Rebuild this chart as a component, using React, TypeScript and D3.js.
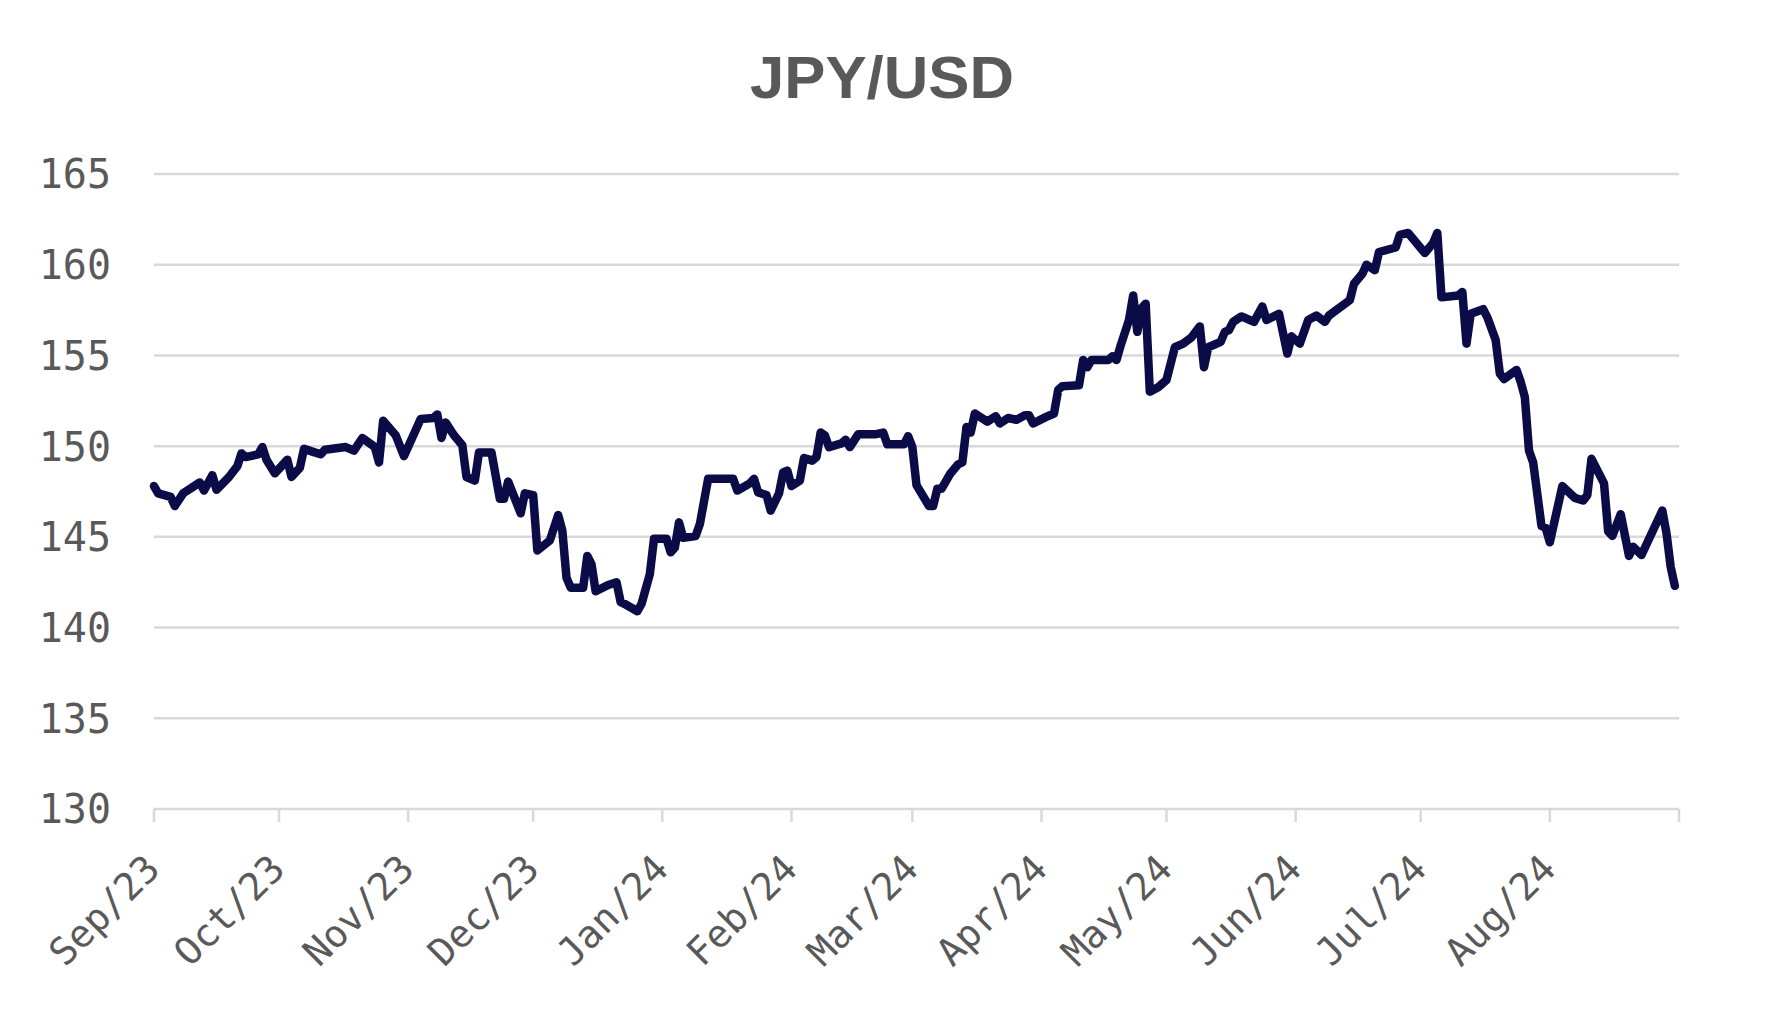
import { useMemo } from "react";
import * as d3 from "d3";

const WIDTH = 1773;
const HEIGHT = 1017;
const MARGIN = { top: 174, right: 94, bottom: 208, left: 154 };

// JPY/USD readings, Sep 2023 - Aug 2024
const dates = [
  "2023-09-01", "2023-09-02", "2023-09-05", "2023-09-06", "2023-09-08", "2023-09-10", "2023-09-12", "2023-09-13",
  "2023-09-15", "2023-09-16", "2023-09-19", "2023-09-21", "2023-09-22", "2023-09-23", "2023-09-26", "2023-09-27",
  "2023-09-28", "2023-09-30", "2023-10-03", "2023-10-04", "2023-10-06", "2023-10-07", "2023-10-09", "2023-10-11",
  "2023-10-12", "2023-10-17", "2023-10-19", "2023-10-21", "2023-10-24", "2023-10-25", "2023-10-26", "2023-10-29",
  "2023-10-31", "2023-11-04", "2023-11-07", "2023-11-08", "2023-11-09", "2023-11-10", "2023-11-12", "2023-11-14",
  "2023-11-15", "2023-11-17", "2023-11-18", "2023-11-21", "2023-11-23", "2023-11-24", "2023-11-25", "2023-11-28",
  "2023-11-29", "2023-12-01", "2023-12-02", "2023-12-05", "2023-12-07", "2023-12-08", "2023-12-09", "2023-12-10",
  "2023-12-13", "2023-12-14", "2023-12-15", "2023-12-16", "2023-12-19", "2023-12-21", "2023-12-22", "2023-12-23",
  "2023-12-26", "2023-12-27", "2023-12-29", "2023-12-30", "2024-01-02", "2024-01-03", "2024-01-04", "2024-01-05",
  "2024-01-06", "2024-01-09", "2024-01-10", "2024-01-12", "2024-01-18", "2024-01-19", "2024-01-22", "2024-01-23",
  "2024-01-24", "2024-01-26", "2024-01-27", "2024-01-29", "2024-01-30", "2024-01-31", "2024-02-01", "2024-02-03",
  "2024-02-04", "2024-02-06", "2024-02-07", "2024-02-08", "2024-02-09", "2024-02-10", "2024-02-13", "2024-02-14",
  "2024-02-15", "2024-02-17", "2024-02-21", "2024-02-23", "2024-02-24", "2024-02-28", "2024-02-29", "2024-03-01",
  "2024-03-02", "2024-03-05", "2024-03-06", "2024-03-07", "2024-03-08", "2024-03-10", "2024-03-12", "2024-03-13",
  "2024-03-14", "2024-03-15", "2024-03-16", "2024-03-19", "2024-03-21", "2024-03-22", "2024-03-24", "2024-03-26",
  "2024-03-28", "2024-03-29", "2024-03-30", "2024-04-02", "2024-04-04", "2024-04-05", "2024-04-06", "2024-04-10",
  "2024-04-11", "2024-04-12", "2024-04-13", "2024-04-17", "2024-04-18", "2024-04-19", "2024-04-20", "2024-04-22",
  "2024-04-23", "2024-04-24", "2024-04-25", "2024-04-26", "2024-04-27", "2024-04-29", "2024-05-01", "2024-05-03",
  "2024-05-05", "2024-05-07", "2024-05-09", "2024-05-10", "2024-05-11", "2024-05-14", "2024-05-15", "2024-05-16",
  "2024-05-17", "2024-05-19", "2024-05-22", "2024-05-24", "2024-05-25", "2024-05-28", "2024-05-30", "2024-05-31",
  "2024-06-02", "2024-06-04", "2024-06-06", "2024-06-08", "2024-06-09", "2024-06-14", "2024-06-15", "2024-06-17",
  "2024-06-18", "2024-06-20", "2024-06-21", "2024-06-25", "2024-06-26", "2024-06-28", "2024-07-02", "2024-07-04",
  "2024-07-05", "2024-07-06", "2024-07-10", "2024-07-11", "2024-07-12", "2024-07-13", "2024-07-16", "2024-07-17",
  "2024-07-19", "2024-07-20", "2024-07-21", "2024-07-24", "2024-07-25", "2024-07-26", "2024-07-27", "2024-07-28",
  "2024-07-30", "2024-07-31", "2024-08-01", "2024-08-04", "2024-08-07", "2024-08-09", "2024-08-10", "2024-08-11",
  "2024-08-14", "2024-08-15", "2024-08-16", "2024-08-18", "2024-08-20", "2024-08-21", "2024-08-23", "2024-08-28",
  "2024-08-29", "2024-08-30", "2024-08-31",
];

const rates = [
  147.8, 147.4, 147.2, 146.7, 147.4, 147.7, 148.0, 147.55,
  148.4, 147.6, 148.3, 148.9, 149.6, 149.4, 149.55, 149.95,
  149.25, 148.5, 149.25, 148.3, 148.8, 149.85, 149.7, 149.55,
  149.8, 149.95, 149.75, 150.45, 149.95, 149.1, 151.4, 150.6,
  149.45, 151.5, 151.55, 151.75, 150.45, 151.3, 150.6, 150.05,
  148.3, 148.1, 149.65, 149.65, 147.1, 147.1, 148.05, 146.3,
  147.4, 147.3, 144.25, 144.8, 146.2, 145.35, 142.75, 142.2,
  142.2, 143.95, 143.5, 142.0, 142.35, 142.5, 141.4, 141.3,
  140.9, 141.3, 142.95, 144.9, 144.9, 144.15, 144.4, 145.8,
  144.95, 145.05, 145.7, 148.2, 148.2, 147.55, 147.95, 148.2,
  147.45, 147.3, 146.45, 147.4, 148.55, 148.65, 147.8, 148.1,
  149.35, 149.2, 149.4, 150.75, 150.6, 149.95, 150.15, 150.35,
  149.95, 150.65, 150.65, 150.75, 150.1, 150.1, 150.55, 149.95,
  147.85, 146.7, 146.7, 147.65, 147.65, 148.45, 149.0, 149.1,
  151.05, 150.75, 151.8, 151.35, 151.65, 151.25, 151.55, 151.45,
  151.7, 151.7, 151.25, 151.6, 151.8, 153.1, 153.3, 153.35,
  154.75, 154.35, 154.75, 154.75, 154.95, 154.75, 155.55, 156.95,
  158.3, 156.3, 157.6, 157.85, 153.0, 153.25, 153.65, 155.45,
  155.65, 156.0, 156.6, 154.35, 155.45, 155.75, 156.3, 156.4,
  156.85, 157.15, 156.85, 157.7, 156.95, 157.3, 155.1, 156.05,
  155.65, 156.95, 157.2, 156.85, 157.2, 158.05, 158.95, 159.5,
  160.0, 159.7, 160.7, 160.95, 161.65, 161.75, 160.65, 161.2,
  161.75, 158.2, 158.3, 158.5, 155.65, 157.3, 157.55, 157.1,
  155.85, 154.0, 153.7, 154.2, 153.55, 152.7, 149.75, 149.1,
  145.6, 145.5, 144.7, 147.8, 147.15, 147.0, 147.3, 149.3,
  147.95, 145.3, 145.05, 146.25, 143.95, 144.45, 144.0, 146.45,
  145.2, 143.35, 142.3,
];

const yTicks = [130, 135, 140, 145, 150, 155, 160, 165];
const monthLabels = [
  "Sep/23", "Oct/23", "Nov/23", "Dec/23", "Jan/24", "Feb/24",
  "Mar/24", "Apr/24", "May/24", "Jun/24", "Jul/24", "Aug/24",
];

const TEXT = "#595959";
const GRID = "#d9d9d9";
const LINE = "#0b0b48";
const MONO = "'DejaVu Sans Mono', 'Liberation Mono', monospace";

export default function App() {
  const parse = d3.utcParse("%Y-%m-%d");
  const points = useMemo(
    () => dates.map((d, i) => ({ date: parse(d) as Date, value: rates[i] })),
    []
  );

  const start = parse("2023-09-01") as Date;
  const end = parse("2024-09-01") as Date;

  const x = d3.scaleUtc().domain([start, end]).range([MARGIN.left, WIDTH - MARGIN.right]);
  const y = d3.scaleLinear().domain([130, 165]).range([HEIGHT - MARGIN.bottom, MARGIN.top]);

  const monthTicks = d3.utcMonth.range(start, d3.utcDay.offset(end, 1));

  const linePath = d3
    .line<{ date: Date; value: number }>()
    .x((d) => x(d.date))
    .y((d) => y(d.value))(points);

  const x0 = MARGIN.left;
  const x1 = WIDTH - MARGIN.right;
  const yBase = y(130);

  return (
    <svg
      width={WIDTH}
      height={HEIGHT}
      style={{ position: "absolute", left: 0, top: 0, background: "#fff" }}
    >
      <text
        x={882}
        y={98}
        textAnchor="middle"
        fontFamily="'Liberation Sans', Arial, sans-serif"
        fontWeight={700}
        fontSize={60}
        textLength={264}
        lengthAdjust="spacingAndGlyphs"
        fill={TEXT}
      >
        JPY/USD
      </text>

      {yTicks.map((t) => (
        <g key={t}>
          <line x1={x0} x2={x1} y1={y(t)} y2={y(t)} stroke={GRID} strokeWidth={2.5} />
          <text
            x={111}
            y={y(t)}
            dy="0.36em"
            textAnchor="end"
            fontFamily={MONO}
            fontSize={40}
            fill={TEXT}
          >
            {t}
          </text>
        </g>
      ))}

      {monthTicks.map((m, i) => (
        <g key={i}>
          <line x1={x(m)} x2={x(m)} y1={yBase} y2={yBase + 13} stroke={GRID} strokeWidth={2.5} />
          {i < monthLabels.length && (
            <text
              transform={`translate(${x(m) + 8},${yBase + 62}) rotate(-45)`}
              textAnchor="end"
              fontFamily={MONO}
              fontSize={38}
              fill={TEXT}
            >
              {monthLabels[i]}
            </text>
          )}
        </g>
      ))}

      <path
        d={linePath ?? ""}
        fill="none"
        stroke={LINE}
        strokeWidth={8.5}
        strokeLinejoin="round"
        strokeLinecap="round"
      />
    </svg>
  );
}
